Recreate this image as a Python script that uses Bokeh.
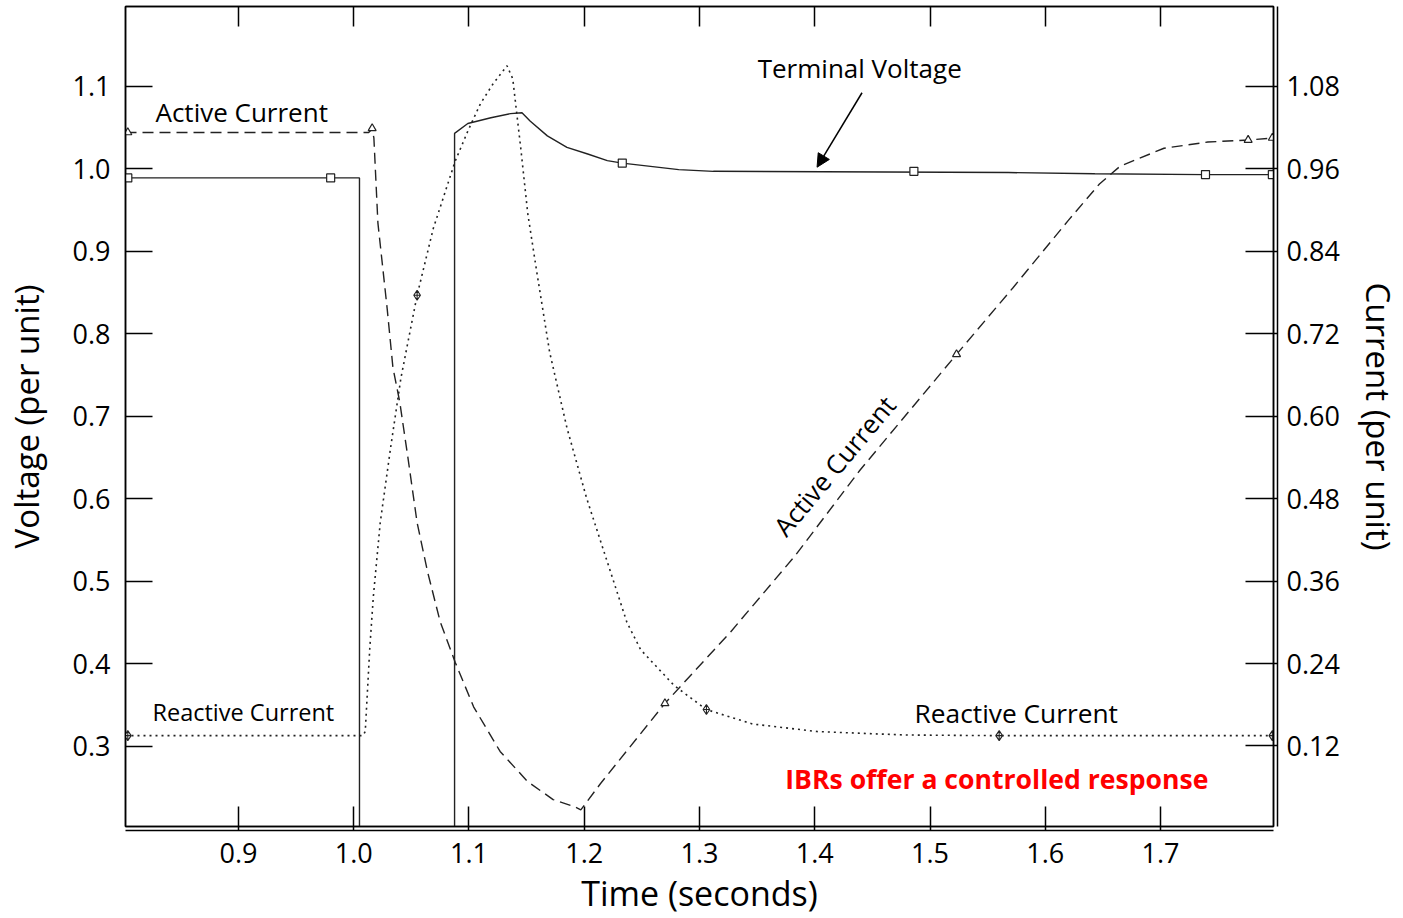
import math
from bokeh.plotting import figure
from bokeh.models import (Range1d, LinearAxis, FixedTicker, PrintfTickFormatter,
                          Label, Arrow, NormalHead)
from bokeh.embed import file_html
from bokeh.resources import INLINE

FONT = "Open Sans"
INK = "#222222"

# ---------------- data ----------------
# Terminal voltage (per unit, left axis)
t_volt = [0.802, 1.005, 1.005, 1.0875, 1.0875, 1.099, 1.119, 1.136, 1.146, 1.153,
          1.168, 1.185, 1.203, 1.220, 1.233, 1.282, 1.312, 1.568, 1.643, 1.739, 1.798]
volt = [0.989, 0.989, 0.05, 0.05, 1.043, 1.055, 1.062, 1.067, 1.068, 1.058,
        1.040, 1.026, 1.018, 1.010, 1.007, 0.999, 0.997, 0.9955, 0.994, 0.993, 0.993]

# Active current (per unit, right axis)
t_act = [0.802, 1.013, 1.016, 1.0175, 1.021, 1.029, 1.034, 1.040, 1.047, 1.055, 1.064,
         1.075, 1.088, 1.104, 1.127, 1.151, 1.173, 1.191, 1.197, 1.214, 1.270, 1.327,
         1.383, 1.439, 1.523, 1.572, 1.620, 1.647, 1.665, 1.703, 1.741, 1.776, 1.798]
act = [1.013, 1.013, 1.018, 1.005, 0.881, 0.757, 0.671, 0.620, 0.540, 0.445, 0.374,
       0.301, 0.242, 0.177, 0.112, 0.068, 0.042, 0.032, 0.027, 0.065, 0.182, 0.286,
       0.397, 0.521, 0.690, 0.787, 0.885, 0.938, 0.964, 0.990, 0.999, 1.002, 1.005]

# Reactive current (per unit, right axis)
t_react = [0.802, 1.008, 1.010, 1.014, 1.017, 1.023, 1.032, 1.041, 1.055, 1.069, 1.088,
           1.099, 1.110, 1.121, 1.133, 1.138, 1.145, 1.151, 1.159, 1.170, 1.185, 1.202,
           1.220, 1.237, 1.249, 1.278, 1.306, 1.346, 1.402, 1.478, 1.560, 1.798]
react = [0.135, 0.135, 0.141, 0.264, 0.337, 0.445, 0.554, 0.656, 0.776, 0.873, 0.971,
         1.015, 1.055, 1.084, 1.110, 1.091, 0.989, 0.895, 0.808, 0.693, 0.583, 0.481,
         0.388, 0.300, 0.260, 0.208, 0.173, 0.152, 0.141, 0.136, 0.135, 0.135]

# Marker points
mk_volt_t = [0.804, 0.980, 1.233, 1.486, 1.739, 1.797]
mk_volt_v = [0.989, 0.989, 1.007, 0.997, 0.993, 0.993]
mk_act_t = [0.804, 1.016, 1.270, 1.523, 1.776, 1.797]
mk_act_v = [1.013, 1.019, 0.182, 0.690, 1.002, 1.005]
mk_react_t = [0.804, 1.055, 1.306, 1.560, 1.797]
mk_react_v = [0.135, 0.776, 0.173, 0.135, 0.135]

# Ticks
time_ticks = [0.9, 1.0, 1.1, 1.2, 1.3, 1.4, 1.5, 1.6, 1.7]
volt_ticks = [0.3, 0.4, 0.5, 0.6, 0.7, 0.8, 0.9, 1.0, 1.1]
curr_ticks = [0.12, 0.24, 0.36, 0.48, 0.60, 0.72, 0.84, 0.96, 1.08]

# Annotation anchors (time, voltage)
arrow_start = (1.441, 1.0923)
arrow_end = (1.402, 1.002)

# ---------------- figure ----------------
p = figure(width=1403, height=918, output_backend="svg", toolbar_location=None,
           x_range=Range1d(0.802, 1.798), y_range=Range1d(0.2024, 1.1969),
           min_border_left=125, min_border_right=130, min_border_top=6,
           min_border_bottom=92)
p.extra_y_ranges = {"cur": Range1d(0.0028, 1.1963)}
p.grid.visible = False
p.outline_line_color = "black"
p.outline_line_width = 1.5
p.outline_line_alpha = 1.0
p.background_fill_color = "white"
p.border_fill_color = "white"


def style_axis(ax, ticks, fmt, tick_in, label=None, show_labels=True, lab_size="33px",
               tick_out=0, show_ticks=True):
    ax.ticker = FixedTicker(ticks=ticks)
    ax.formatter = PrintfTickFormatter(format=fmt)
    ax.major_tick_in = tick_in
    ax.major_tick_out = tick_out
    ax.major_tick_line_width = 1.5
    ax.major_tick_line_color = "black" if show_ticks else None
    ax.minor_tick_line_color = None
    ax.axis_line_color = "black"
    ax.axis_line_width = 1.5
    ax.major_label_text_font = FONT
    if show_labels:
        ax.major_label_text_font_size = "27px"
        ax.major_label_text_color = "black"
    else:
        ax.major_label_text_font_size = "0px"
        ax.major_label_text_color = None
    if label:
        ax.axis_label = label
        ax.axis_label_text_font = FONT
        ax.axis_label_text_font_size = lab_size
        ax.axis_label_text_font_style = "normal"
        ax.axis_label_text_color = "black"


# bottom: a thin spacer axis next to the frame, then the labelled axis
# (this gives the doubled frame line seen in the reference)
xa = p.xaxis[0]
style_axis(xa, time_ticks, "%.1f", 0, show_labels=False, tick_out=4, show_ticks=False)

xb = LinearAxis()
style_axis(xb, time_ticks, "%.1f", 24, "Time (seconds)", lab_size="34px")
xb.major_label_standoff = 12
xb.axis_label_standoff = 4
p.add_layout(xb, "below")

ya = p.yaxis[0]
style_axis(ya, volt_ticks, "%.1f", 27, "Voltage (per unit)")
ya.major_label_standoff = 15
ya.axis_label_standoff = 21

# right: spacer axis + labelled axis
ra = LinearAxis(y_range_name="cur")
style_axis(ra, curr_ticks, "%.2f", 0, show_labels=False, tick_out=4, show_ticks=False)
p.add_layout(ra, "right")

rb = LinearAxis(y_range_name="cur")
style_axis(rb, curr_ticks, "%.2f", 32, "Current (per unit)")
rb.major_label_standoff = 9
rb.axis_label_standoff = 13
p.add_layout(rb, "right")

ta = LinearAxis()
style_axis(ta, time_ticks, "%.1f", 20, show_labels=False)
ta.major_label_standoff = 0
p.add_layout(ta, "above")

# ---------------- curves ----------------
p.line(t_volt, volt, line_color=INK, line_width=1.4)
p.line(t_act, act, y_range_name="cur", line_color=INK, line_width=1.4, line_dash="11 6")
p.line(t_react, react, y_range_name="cur", line_color=INK, line_width=1.6, line_dash="2 4")

p.scatter(mk_volt_t, mk_volt_v, marker="square", size=8, fill_color="white",
          line_color=INK, line_width=1.2)
p.scatter(mk_act_t, mk_act_v, y_range_name="cur", marker="triangle", size=8,
          fill_color="white", line_color=INK, line_width=1.2)
p.scatter(mk_react_t, mk_react_v, y_range_name="cur", marker="diamond_cross", size=10,
          fill_color="white", line_color=INK, line_width=1.1)

# ---------------- annotations ----------------
def lab(x, y, text, size, align="left", angle=0.0, color="black", style="normal"):
    p.add_layout(Label(x=x, y=y, text=text, text_font=FONT, text_font_size=size,
                       text_align=align, text_baseline="middle", angle=angle,
                       text_color=color, text_font_style=style))


lab(0.828, 1.069, "Active Current", "26px")
lab(0.8254, 0.3414, "Reactive Current", "23.5px")
lab(1.439, 1.1227, "Terminal Voltage", "26px", align="center")
lab(1.4866, 0.340, "Reactive Current", "26.3px")
lab(1.417, 0.640, "Active Current", "26px", align="center", angle=math.radians(50))
lab(1.558, 0.260, "IBRs offer a controlled response", "26.6px", align="center",
    color="#ff0000", style="bold")

p.add_layout(Arrow(end=NormalHead(size=13, fill_color="black", line_color="black"),
                   x_start=arrow_start[0], y_start=arrow_start[1],
                   x_end=arrow_end[0], y_end=arrow_end[1],
                   line_color="black", line_width=1.5))

open("out.html", "w").write(file_html(p, INLINE))
